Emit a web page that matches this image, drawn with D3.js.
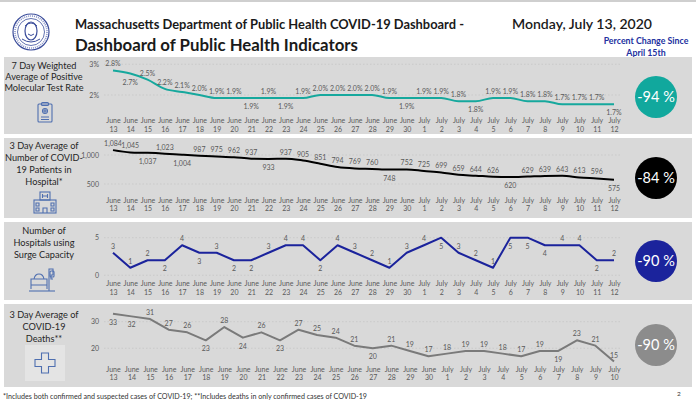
<!DOCTYPE html>
<html><head><meta charset="utf-8">
<script src="https://cdnjs.cloudflare.com/ajax/libs/d3/7.8.5/d3.min.js"></script>
<style>
html,body{margin:0;padding:0;background:#fff;}
svg{display:block;}
text{font-family:Lato,"Open Sans",sans-serif;}
</style></head>
<body>
<svg id="c" width="696" height="406"></svg>
<script>
// ---------- DATA ----------
const dates30 = ["June 13","June 14","June 15","June 16","June 17","June 18","June 19","June 20","June 21","June 22","June 23","June 24","June 25","June 26","June 27","June 28","June 29","June 30","July 1","July 2","July 3","July 4","July 5","July 6","July 7","July 8","July 9","July 10","July 11","July 12"];
const dates28 = ["June 13","June 14","June 15","June 16","June 17","June 18","June 19","June 20","June 21","June 22","June 23","June 24","June 25","June 26","June 27","June 28","June 29","June 30","July 1","July 2","July 3","July 4","July 5","July 6","July 7","July 8","July 9","July 10"];

const positiveRate = [2.8,2.7,2.5,2.2,2.1,2.0,1.9,1.9,1.9,1.9,1.9,1.9,2.0,2.0,2.0,2.0,1.9,1.9,1.9,1.9,1.8,1.8,1.9,1.9,1.8,1.8,1.7,1.7,1.7,1.7];
const hospitalized = [1084,1045,1037,1023,1004,987,975,962,937,933,937,905,851,794,769,760,748,752,725,699,659,644,626,620,629,639,643,613,596,575];
const surgeHospitals = [3,1,2,2,4,3,3,2,2,3,4,4,2,4,3,2,1,3,4,5,3,2,1,5,5,4,4,4,2,2];
const deaths = [33,32,31,27,26,23,28,24,26,23,27,25,24,21,20,21,19,17,18,19,19,18,17,19,19,23,21,15];

// label side: a = above line, b = below line
const side1 = ["a","b","a","a","a","a","a","a","b","a","b","a","a","a","a","a","a","b","a","a","a","b","a","a","a","a","a","a","a","b"];
const side2 = ["a","a","b","a","b","a","a","a","a","b","a","a","a","a","a","a","b","a","a","a","a","a","a","b","a","a","a","a","a","b"];
const side3 = ["a","a","a","b","a","b","a","b","b","a","a","a","b","a","a","a","a","a","a","b","a","a","a","b","b","b","a","a","b","a"];
const side4 = ["b","b","a","a","a","b","a","b","a","b","a","a","a","a","b","a","a","a","a","a","a","a","a","a","b","a","a","a"];

const ticks1 = [2,3], ticks2 = [500,1000], ticks3 = [0,5], ticks4 = [20,30];
const pctChange = ["-94 %","-84 %","-90 %","-90 %"];
const panelTitles = [
  ["7 Day Weighted","Average of Positive","Molecular Test Rate"],
  ["3 Day Average of","Number of COVID-","19 Patients in","Hospital*"],
  ["Number of","Hospitals using","Surge Capacity"],
  ["3 Day Average of","COVID-19","Deaths**"]
];

// ---------- DRAW ----------
const svg = d3.select("#c");
const LBL = "#595959";

// top rule
svg.append("line").attr("x1",0).attr("x2",696).attr("y1",1).attr("y2",1).attr("stroke","#bfbfbf").attr("stroke-width",1.5);

// seal
const seal = svg.append("g").attr("transform","translate(31,32)");
seal.append("circle").attr("r",18).attr("fill","#fff").attr("stroke","#3a4c9a").attr("stroke-width",1.2);
seal.append("circle").attr("r",13.5).attr("fill","none").attr("stroke","#3a4c9a").attr("stroke-width",0.8);
seal.append("circle").attr("r",16).attr("fill","none").attr("stroke","#8a95c8").attr("stroke-width",1.6).attr("stroke-dasharray","1 1");
seal.append("ellipse").attr("cx",0).attr("cy",-1).attr("rx",6).attr("ry",9).attr("fill","none").attr("stroke","#3a4c9a").attr("stroke-width",1.2);
seal.append("path").attr("d","M-6,-6 Q0,-12 6,-6 M-3,2 Q0,5 3,2 M-9,7 Q0,13 9,7").attr("fill","none").attr("stroke","#3a4c9a").attr("stroke-width",1);

// titles
svg.append("text").attr("x",75).attr("y",29).attr("font-family","'Open Sans',sans-serif").attr("font-weight",700)
  .attr("font-size",12.5).attr("fill","#1a1a1a").attr("textLength",389).attr("lengthAdjust","spacingAndGlyphs")
  .text("Massachusetts Department of Public Health COVID-19 Dashboard -");
svg.append("text").attr("x",75).attr("y",51).attr("font-family","'Open Sans',sans-serif").attr("font-weight",700)
  .attr("font-size",17).attr("fill","#1a1a1a").attr("textLength",283).attr("lengthAdjust","spacingAndGlyphs")
  .text("Dashboard of Public Health Indicators");
svg.append("text").attr("x",512).attr("y",29).attr("font-family","'Open Sans',sans-serif").attr("font-weight",600)
  .attr("font-size",14).attr("fill","#1a1a1a").attr("textLength",140).attr("lengthAdjust","spacingAndGlyphs")
  .text("Monday, July 13, 2020");
svg.append("text").attr("x",646).attr("y",44).attr("text-anchor","middle").attr("font-weight",700)
  .attr("font-size",8.8).attr("fill","#2230a0").text("Percent Change Since");
svg.append("text").attr("x",646).attr("y",55.5).attr("text-anchor","middle").attr("font-weight",700)
  .attr("font-size",8.8).attr("fill","#2230a0").text("April 15th");

const panels = [
  {y0:57, y1:134, dates:dates30, vals:positiveRate, side:side1, ticks:ticks1, dom:[2,3], rng:[95,64.3],
   color:"#16a89d", curve:d3.curveMonotoneX, fmt:v=>d3.format(".1f")(v)+"%", tfmt:v=>v+"%", dy:123,
   circ:"#11a89d", cy:97, ty:[65,76,87], icon:"clip", iy:113},
  {y0:138, y1:218, dates:dates30, vals:hospitalized, side:side2, ticks:ticks2, dom:[500,1000], rng:[184,155],
   color:"#000", curve:d3.curveMonotoneX, fmt:d3.format(","), tfmt:d3.format(","), dy:202.5,
   circ:"#000", cy:178, ty:[145,157,169,181], icon:"hosp", iy:203},
  {y0:222, y1:300, dates:dates30, vals:surgeHospitals, side:side3, ticks:ticks3, dom:[0,5], rng:[275.3,237.7],
   color:"#1b239c", curve:d3.curveLinear, fmt:d3.format("d"), tfmt:d3.format("d"), dy:286,
   circ:"#1b239c", cy:261, ty:[230,242,254], icon:"bed", iy:281},
  {y0:304, y1:387, dates:dates28, vals:deaths, side:side4, ticks:ticks4, dom:[20,30], rng:[348.3,321.7],
   color:"#7a7a7a", curve:d3.curveLinear, fmt:d3.format("d"), tfmt:d3.format("d"), dy:371.5,
   circ:"#8c8c8c", cy:345, ty:[314,326,338], icon:"cross", iy:363}
];

panels.forEach((p,i)=>{
  const g = svg.append("g");
  g.append("rect").attr("x",4).attr("y",p.y0).attr("width",688).attr("height",p.y1-p.y0).attr("fill","#d9d9d9");

  // left title
  panelTitles[i].forEach((t,k)=>{
    g.append("text").attr("x",44).attr("y",p.ty[k]+3.5).attr("text-anchor","middle")
      .attr("font-size",9.2).attr("fill","#262626").text(t);
  });

  const x = d3.scalePoint().domain(p.dates).range([113,614]);
  const y = d3.scaleLinear().domain(p.dom).range(p.rng);

  // gridlines
  g.selectAll(".grid").data(p.ticks).join("line")
    .attr("x1",104).attr("x2",620).attr("y1",d=>y(d)).attr("y2",d=>y(d))
    .attr("stroke","#c4c4c4").attr("stroke-width",0.7).attr("stroke-dasharray","1.5 2");

  // y axis
  const ya = g.append("g").attr("transform","translate(100,0)")
    .call(d3.axisLeft(y).tickValues(p.ticks).tickSize(0).tickPadding(1).tickFormat(p.tfmt));
  ya.select(".domain").remove();
  ya.selectAll("text").attr("font-size",7).attr("fill",LBL).attr("font-family","Lato,sans-serif");

  // x axis (two-line labels)
  const xa = g.append("g").attr("transform",`translate(0,${p.dy})`)
    .call(d3.axisBottom(x).tickSize(0).tickPadding(0));
  xa.select(".domain").remove();
  xa.selectAll(".tick text").each(function(d){
    const parts = d.split(" ");
    const t = d3.select(this).text(null).attr("y",0).attr("dy",null)
      .attr("font-size",7).attr("fill",LBL).attr("font-family","Lato,sans-serif");
    t.append("tspan").attr("x",0).attr("y",0).text(parts[0]);
    t.append("tspan").attr("x",0).attr("y",8.5).text(parts[1]);
  });

  // line
  const line = d3.line().x((d,j)=>x(p.dates[j])).y(d=>y(d)).curve(p.curve);
  g.append("path").datum(p.vals).attr("d",line).attr("fill","none")
    .attr("stroke",p.color).attr("stroke-width",2).attr("stroke-linejoin","round");

  // data labels
  g.selectAll(".dl").data(p.vals).join("text")
    .attr("x",(d,j)=>x(p.dates[j]))
    .attr("y",(d,j)=>y(d)+(p.side[j]==="a"?-4:11))
    .attr("text-anchor","middle").attr("font-size",7).attr("fill",LBL)
    .text(d=>p.fmt(d));

  // circle
  g.append("circle").attr("cx",656).attr("cy",p.cy).attr("r",21).attr("fill",p.circ);
  g.append("text").attr("x",656).attr("y",p.cy+5).attr("text-anchor","middle")
    .attr("font-size",14.5).attr("fill","#fff").attr("font-family","Lato,sans-serif").text(pctChange[i]);

  // icon
  if(p.icon==="cross"){
    g.append("rect").attr("x",25).attr("y",p.iy-18).attr("width",40).attr("height",36).attr("fill","#e4e4e4");
  }
  const ic = g.append("g").attr("transform",`translate(45,${p.iy})`)
    .attr("fill","none").attr("stroke","#4f6fb0").attr("stroke-width",1.1);
  if(p.icon==="clip"){
    ic.append("rect").attr("x",-7).attr("y",-9).attr("width",14).attr("height",18).attr("rx",1);
    ic.append("rect").attr("x",-3.5).attr("y",-10.5).attr("width",7).attr("height",3).attr("rx",1);
    ic.append("circle").attr("cx",0).attr("cy",-2).attr("r",2.5);
    ic.append("path").attr("d","M-2,-2H2M0,-4V0M-4,4H4M-4,6.5H4");
  } else if(p.icon==="hosp"){
    ic.append("rect").attr("x",-5).attr("y",-11).attr("width",10).attr("height",8);
    ic.append("path").attr("d","M-2.5,-9V-5M2.5,-9V-5M-2.5,-7H2.5");
    ic.append("rect").attr("x",-11).attr("y",-3).attr("width",22).attr("height",13);
    ic.append("path").attr("d","M-9,0h3v3h-3zM6,0h3v3h-3zM-9,5h3v3h-3zM6,5h3v3h-3zM-2,10V5h4v5");
  } else if(p.icon==="bed"){
    ic.append("path").attr("d","M-14,8V-2H2V8M-14,4H2M-11,-2Q-10,-7 -6,-7Q-2,-7 -1,-2M4,10V-12H8V-6M8,-6h-2v4h2");
    ic.append("rect").attr("x",5).attr("y",-10).attr("width",4).attr("height",6).attr("rx",1);
    ic.append("path").attr("d","M-16,10H10");
  } else {
    ic.append("path").attr("d","M-3.5,-10H3.5V-3.5H10V3.5H3.5V10H-3.5V3.5H-10V-3.5H-3.5Z");
  }
});

// footer
svg.append("text").attr("x",3).attr("y",399).attr("font-size",7.3).attr("fill","#333")
  .attr("textLength",364).attr("lengthAdjust","spacingAndGlyphs")
  .text("*Includes both confirmed and suspected cases of COVID-19; **Includes deaths in only confirmed cases of COVID-19");
svg.append("text").attr("x",677).attr("y",396).attr("font-size",6.5).attr("fill","#333").text("2");
</script>
</body></html>
